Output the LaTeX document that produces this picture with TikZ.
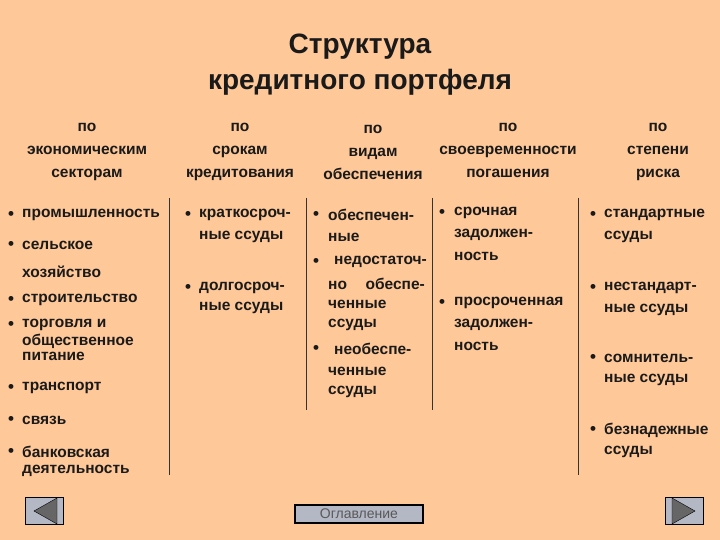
\documentclass[tikz,border=0pt]{standalone}
\usepackage{fontspec}
\setmainfont{Liberation Sans}
\definecolor{bg}{HTML}{FFC898}
\definecolor{btn}{HTML}{B4B8C4}
\definecolor{txt}{HTML}{1A1A1A}
\begin{document}
\begin{tikzpicture}[x=1pt,y=-1pt,
  hd/.style={align=center,font=\fontsize{15.5}{23}\selectfont\bfseries,text=txt},
  ln/.style={anchor=west,font=\fontsize{15.5}{16}\selectfont\bfseries,text=txt,inner sep=0},
  bul/.style={anchor=center,font=\fontsize{17}{16}\selectfont\bfseries,text=txt,inner sep=0},
  vl/.style={draw=black!80,line width=1pt}]
\fill[bg] (0,0) rectangle (720,540);
\useasboundingbox (0,0) rectangle (720,540);
\node[align=center,font=\fontsize{28}{36}\selectfont\bfseries,text=txt] (title) at (360,65) {Структура\\кредитного портфеля};
\node[hd] (h1) at (87,152) {по\\экономическим\\секторам};
\node[hd] (h2) at (240,152) {по\\срокам\\кредитования};
\node[hd] (h3) at (373,152) {по\\видам\\обеспечения};
\node[hd] (h4) at (508,150) {по\\своевременности\\погашения};
\node[hd] (h5) at (658,152) {по\\степени\\риска};
\coordinate (a1) at (169,198); \coordinate (b1) at (169,475);
\coordinate (a2) at (306,198); \coordinate (b2) at (306,410);
\coordinate (a3) at (432,198); \coordinate (b3) at (432,410);
\coordinate (a4) at (578,198); \coordinate (b4) at (578,475);
\draw[vl] (a1)--(b1); \draw[vl] (a2)--(b2); \draw[vl] (a3)--(b3); \draw[vl] (a4)--(b4);
% col1
\foreach \y/\t [count=\i] in {215/промышленность,245/сельское,300/строительство,325/торговля и,388/транспорт,420/связь,452/банковская}{
  \node[bul] (c1b\i) at (11,\y) {•}; \node[ln] (c1t\i) at (22,\y) {\t};}
\node[ln] (c1x1) at (22,272) {хозяйство};
\node[ln] (c1x2) at (22,341) {общественное};
\node[ln] (c1x3) at (22,356) {питание};
\node[ln] (c1x4) at (22,471) {деятельность};
% col2
\node[bul] (c2b1) at (188,215) {•}; \node[ln] (c2t1) at (199,215) {краткосроч-};
\node[ln] (c2t2) at (199,237) {ные ссуды};
\node[bul] (c2b2) at (188,288) {•}; \node[ln] (c2t3) at (199,288) {долгосроч-};
\node[ln] (c2t4) at (199,308) {ные ссуды};
% col3
\node[bul] (c3b1) at (316,215) {•}; \node[ln] (c3t1) at (328,215) {обеспечен-};
\node[ln] (c3t2) at (328,237) {ные};
\node[bul] (c3b2) at (316,262) {•}; \node[ln] (c3t3) at (334,262) {недостаточ-};
\node[ln] (c3t4) at (328,284) {но\hspace{1.2em}обеспе-};
\node[ln] (c3t5) at (328,304) {ченные};
\node[ln] (c3t6) at (328,325) {ссуды};
\node[bul] (c3b3) at (316,349) {•}; \node[ln] (c3t7) at (334,349) {необеспе-};
\node[ln] (c3t8) at (328,371) {ченные};
\node[ln] (c3t9) at (328,392) {ссуды};
% col4
\node[bul] (c4b1) at (442,213) {•}; \node[ln] (c4t1) at (454,213) {срочная};
\node[ln] (c4t2) at (454,235) {задолжен-};
\node[ln] (c4t3) at (454,256) {ность};
\node[bul] (c4b2) at (442,303) {•}; \node[ln] (c4t4) at (454,303) {просроченная};
\node[ln] (c4t5) at (454,325) {задолжен-};
\node[ln] (c4t6) at (454,346) {ность};
% col5
\foreach \y/\a/\b [count=\i] in {215/стандартные/ссуды,288/нестандарт-/ные ссуды,358/сомнитель-/ные ссуды,430/безнадежные/ссуды}{
  \node[bul] (c5b\i) at (593,\y) {•}; \node[ln] (c5t\i) at (604,\y) {\a};
  \node[ln] (c5u\i) at (604,\y+22) {\b};}
% buttons
\node[draw=black,line width=0.8pt,fill=btn,minimum width=38pt,minimum height=27pt,inner sep=0] (prev) at (44,511) {};
\fill[black!60,draw=black] (34,511) -- (57,498) -- (57,524) -- cycle;
\node[draw=black,line width=0.8pt,fill=btn,minimum width=38pt,minimum height=27pt,inner sep=0] (next) at (684,511) {};
\fill[black!60,draw=black] (695,511) -- (672,498) -- (672,524) -- cycle;
\node[draw=black,line width=1.5pt,fill=btn,minimum width=128pt,minimum height=18pt,inner sep=0,font=\fontsize{14}{14}\selectfont,text=black!65] (toc) at (359,514) {Оглавление};
\end{tikzpicture}
\end{document}
